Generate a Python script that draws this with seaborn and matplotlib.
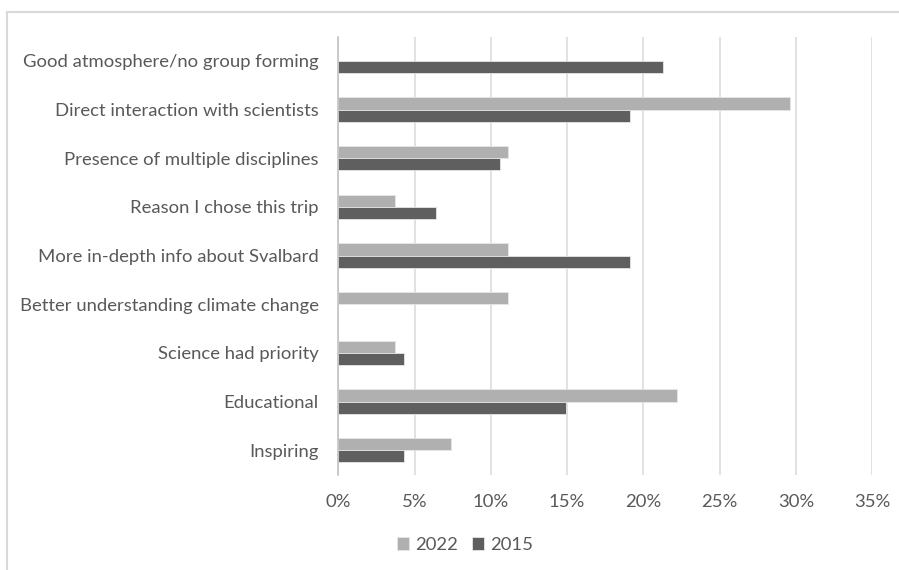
import matplotlib
matplotlib.use("Agg")
import matplotlib.pyplot as plt
from matplotlib.patches import Rectangle
from matplotlib.ticker import PercentFormatter
import seaborn as sns
import pandas as pd

categories = [
    "Good atmosphere/no group forming",
    "Direct interaction with scientists",
    "Presence of multiple disciplines",
    "Reason I chose this trip",
    "More in-depth info about Svalbard",
    "Better understanding climate change",
    "Science had priority",
    "Educational",
    "Inspiring",
]
values_2022 = [0.0, 29.6, 11.1, 3.7, 11.1, 11.1, 3.7, 22.2, 7.4]
values_2015 = [21.3, 19.1, 10.6, 6.4, 19.1, 0.0, 4.3, 14.9, 4.3]
years = ["2022", "2015"]
x_ticks = [0, 5, 10, 15, 20, 25, 30, 35]

df = pd.DataFrame({"category": categories, "2022": values_2022, "2015": values_2015})
dfm = df.melt(id_vars="category", value_vars=years, var_name="year", value_name="pct")

sns.set_theme(style="white")
plt.rcParams["font.family"] = ["Lato", "DejaVu Sans"]
text_color = "#595959"

fig = plt.figure(figsize=(8.99, 5.70), dpi=100)
ax = fig.add_axes([338.3 / 899, 1 - 474.5 / 570, (872.3 - 338.3) / 899, (474.5 - 36.5) / 570])

sns.barplot(
    data=dfm, y="category", x="pct", hue="year", hue_order=years,
    order=categories, orient="h", width=0.5,
    palette={"2022": "#b0b0b0", "2015": "#5f5f5f"},
    edgecolor="#e6e6e6", linewidth=0.6, ax=ax,
)

ax.set_xlim(0, 35)
ax.set_xticks(x_ticks)
ax.xaxis.set_major_formatter(PercentFormatter(decimals=0))
ax.set_xlabel("")
ax.set_ylabel("")
ax.set_axisbelow(True)
ax.grid(axis="x", color="#d9d9d9", linewidth=1.1)
ax.grid(axis="y", visible=False)
for side in ["top", "right", "bottom"]:
    ax.spines[side].set_visible(False)
ax.spines["left"].set_color("#bfbfbf")
ax.spines["left"].set_linewidth(1.1)
ax.tick_params(axis="both", length=0, labelsize=13.3, colors=text_color)
ax.tick_params(axis="y", pad=14)
ax.tick_params(axis="x", pad=14)

ax.legend_.remove()
handles, labels = ax.get_legend_handles_labels()
fig.legend(
    handles, labels, loc="center", bbox_to_anchor=(465 / 899, 1 - 545 / 570),
    ncol=2, frameon=False, fontsize=13.3, labelcolor=text_color,
    handlelength=0.65, handleheight=0.65, handletextpad=0.3, columnspacing=0.8,
)

fig.patches.append(Rectangle((7.3 / 899, -0.05), 1.1, 1.05 - 12 / 570,
                             transform=fig.transFigure, fill=False,
                             edgecolor="#d9d9d9", linewidth=1.5))

fig.savefig("out.png", dpi=100)
